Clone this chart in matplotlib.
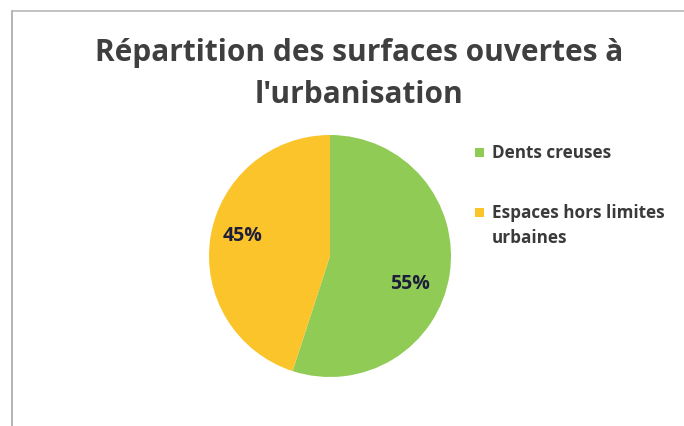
import matplotlib.pyplot as plt
from matplotlib.patches import Rectangle
from matplotlib.lines import Line2D

# Surface shares (percent) and legend labels
categories = ["Dents creuses", "Espaces hors limites\nurbaines"]
shares = [55, 45]
colors = ["#8FCB55", "#FBC42A"]

title = "Répartition des surfaces ouvertes à\nl'urbanisation"

W, H = 684, 427
fig = plt.figure(figsize=(W / 100, H / 100), dpi=100)
fig.patch.set_facecolor("white")

# chart frame (left and top edges)
fig.add_artist(Line2D([12 / W, 12 / W], [0, 1 - 12 / H], color="#a8a8a8", lw=1.2))
fig.add_artist(Line2D([12 / W, 1], [1 - 12 / H, 1 - 12 / H], color="#b8b8b8", lw=1.2))

fig.text(359 / W, 1 - 74 / H, title, ha="center", va="center",
         fontsize=21.5, fontweight="bold", family="Open Sans", color="#3f3f3f",
         linespacing=1.5)

# pie
cx, cy, r = 330, 257, 121
ax = fig.add_axes([(cx - r) / W, (H - cy - r) / H, 2 * r / W, 2 * r / H])
wedges, _, autotexts = ax.pie(
    shares, colors=colors, startangle=90, counterclock=False,
    autopct="%d%%", pctdistance=0.72,
    textprops=dict(fontsize=14, fontweight="bold", family="Open Sans", color="#1d1f3a"),
)
# data labels sit where the spreadsheet placed them
for t, pos in zip(autotexts, [(0.66, -0.22), (-0.72, 0.17)]):
    t.set_position(pos)
ax.set_xlim(-1, 1)
ax.set_ylim(-1, 1)
ax.axis("off")

# legend
leg_y = [153, 213]
for lab, col, y in zip(categories, colors, leg_y):
    fig.add_artist(Rectangle((475 / W, (H - y - 5) / H), 9 / W, 9 / H,
                             facecolor=col, edgecolor="none"))
    fig.text(492 / W, 1 - (y - 9) / H, lab, ha="left", va="top",
             fontsize=12.3, fontweight="bold", family="Open Sans", color="#3a3a3a",
             linespacing=1.5)

fig.savefig("out.png", dpi=100, facecolor="white")
